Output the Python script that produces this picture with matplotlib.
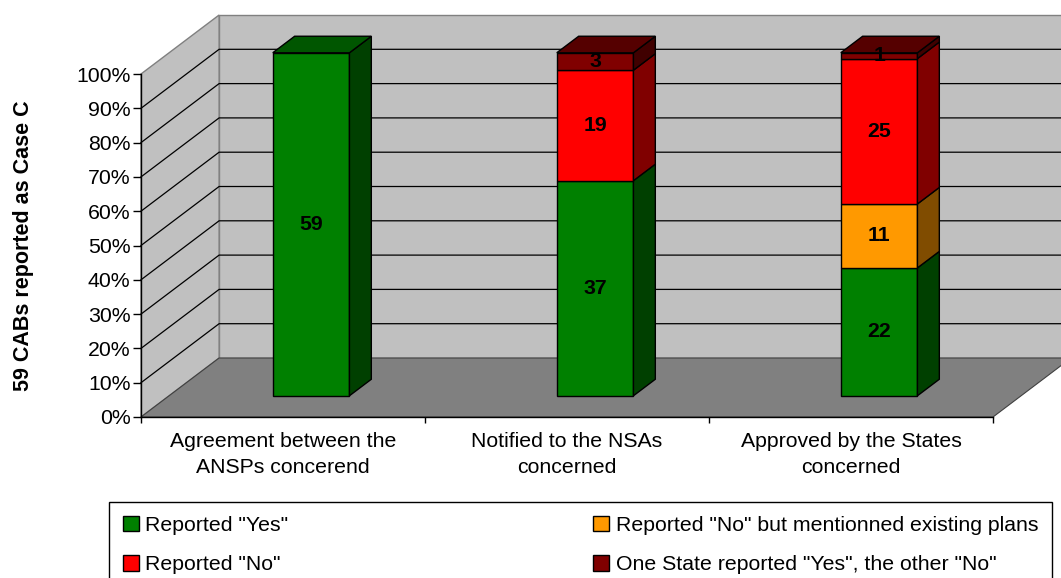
import numpy as np
import matplotlib.pyplot as plt
from matplotlib.patches import Polygon, Patch

plt.rcParams['font.family'] = ['Liberation Sans', 'DejaVu Sans']

categories = ['Agreement between the\nANSPs concerend',
              'Notified to the NSAs\nconcerned',
              'Approved by the States\nconcerned']
series = ['Reported "Yes"',
          'Reported "No" but mentionned existing plans',
          'Reported "No"',
          'One State reported "Yes", the other "No"']
yes = [59, 37, 22]
plans = [0, 0, 11]
no = [0, 19, 25]
split = [0, 3, 1]
y_label = '59 CABs reported as Case C'

front = ['#008000', '#FF9900', '#FF0000', '#800000']
side = ['#004000', '#804C00', '#800000', '#400000']
top = ['#005600', '#AA6600', '#AA0000', '#550000']

# fake 3d: depth offset of the back wall in data units
DX, DY = 0.275, 17.2
d0, dd = 0.36, 0.28   # bar depth start / thickness (fraction of depth)
bw = 0.27
FS = 15.3

fig = plt.figure(figsize=(10.61, 5.78), dpi=100)
ax = fig.add_axes([141 / 1061, 161 / 578, 852 / 1061, 343 / 578])
ax.set_xlim(0, 3)
ax.set_ylim(0, 100)
ax.patch.set_visible(False)

ncat = len(categories)
wall = '#C0C0C0'
ax.add_patch(Polygon([(DX, DY), (ncat + DX, DY), (ncat + DX, 100 + DY), (DX, 100 + DY)],
                     closed=True, fc=wall, ec='#808080', lw=1, clip_on=False, zorder=0))
ax.add_patch(Polygon([(0, 0), (DX, DY), (DX, 100 + DY), (0, 100)],
                     closed=True, fc=wall, ec='#808080', lw=1, clip_on=False, zorder=0))
ax.add_patch(Polygon([(0, 0), (ncat, 0), (ncat + DX, DY), (DX, DY)],
                     closed=True, fc='#808080', ec='#404040', lw=0.8, clip_on=False, zorder=0.5))

for g in range(10, 100, 10):
    ax.plot([0, DX, ncat + DX], [g, g + DY, g + DY], color='black', lw=0.9,
            clip_on=False, zorder=0.6)

data = np.array([yes, plans, no, split], dtype=float)
pct = data / data.sum(axis=0) * 100

bx, by = dd * DX, dd * DY
for i in range(ncat):
    x0 = i + 0.5 - bw / 2 + d0 * DX
    x1 = x0 + bw
    base = d0 * DY
    last = max(k for k in range(4) if pct[k, i] > 0)
    for k in range(4):
        h = pct[k, i]
        if h <= 0:
            continue
        y0, y1 = base, base + h
        ax.add_patch(Polygon([(x0, y0), (x1, y0), (x1, y1), (x0, y1)], closed=True,
                             fc=front[k], ec='black', lw=1, clip_on=False, zorder=2))
        ax.add_patch(Polygon([(x1, y0), (x1 + bx, y0 + by), (x1 + bx, y1 + by), (x1, y1)],
                             closed=True, fc=side[k], ec='black', lw=1, clip_on=False, zorder=2))
        if k == last:
            ax.add_patch(Polygon([(x0, y1), (x1, y1), (x1 + bx, y1 + by), (x0 + bx, y1 + by)],
                                 closed=True, fc=top[k], ec='black', lw=1, clip_on=False,
                                 zorder=2))
        ax.text((x0 + x1) / 2, (y0 + y1) / 2, '%d' % data[k, i], ha='center', va='center',
                fontsize=FS, fontweight='bold', zorder=3)
        base = y1

for s in ['top', 'right']:
    ax.spines[s].set_visible(False)
for s in ['left', 'bottom']:
    ax.spines[s].set_color('black')
    ax.spines[s].set_linewidth(1)

ax.set_yticks(range(0, 101, 10))
ax.set_yticklabels(['%d%%' % v for v in range(0, 101, 10)])
ax.tick_params(axis='y', length=6, width=1, pad=1.5, labelsize=FS)
ax.set_xticks(range(ncat + 1))
ax.set_xticklabels([])
ax.set_xticks(np.arange(ncat) + 0.5, minor=True)
ax.set_xticklabels(categories, minor=True, fontsize=FS, linespacing=1.47)
ax.tick_params(axis='x', which='major', length=4.3, width=1)
ax.tick_params(axis='x', which='minor', length=0, pad=10.8)

ax.set_ylabel(y_label, fontsize=15.5, fontweight='bold')
ax.yaxis.set_label_coords(-0.125, 0.5)

handles = [Patch(fc=front[k], ec='black', lw=1) for k in [0, 2, 1, 3]]
labels = [series[k] for k in [0, 2, 1, 3]]
top_y = 1 - 502 / 578
leg = fig.legend(handles, labels, ncol=2, loc='upper left',
                 bbox_to_anchor=(109 / 1061, top_y - 0.2, (1052 - 109) / 1061, 0.2),
                 mode='expand', fancybox=False, edgecolor='black', framealpha=1,
                 handlelength=0.75, handleheight=0.75, handletextpad=0.3, borderpad=0.65,
                 labelspacing=0.95, fontsize=FS, borderaxespad=0)
leg.get_frame().set_linewidth(1)

fig.savefig('out.png', dpi=100)
